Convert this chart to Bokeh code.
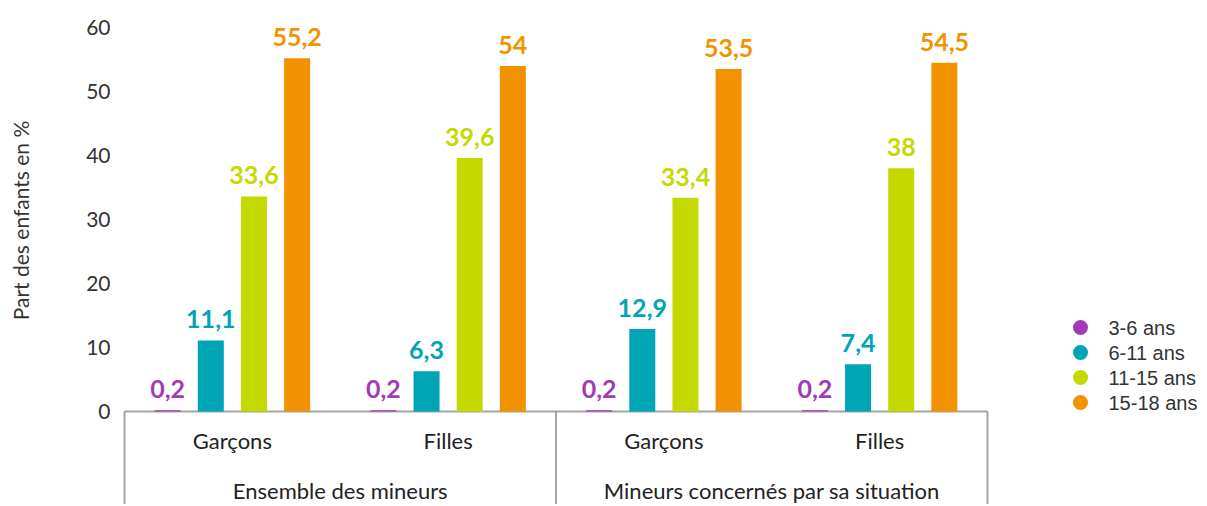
import math
from bokeh.plotting import figure
from bokeh.models import Range1d, ColumnDataSource
from bokeh.core.properties import value
from bokeh.embed import file_html
from bokeh.resources import INLINE

# ---- data ----
groups = ["Ensemble des mineurs", "Mineurs concernés par sa situation"]
subgroups = ["Garçons", "Filles"]
ages = ["3-6 ans", "6-11 ans", "11-15 ans", "15-18 ans"]
colors = ["#A13AB6", "#00A5B5", "#C4D900", "#F39200"]
v_3_6 = [0.2, 0.2, 0.2, 0.2]
v_6_11 = [11.1, 6.3, 12.9, 7.4]
v_11_15 = [33.6, 39.6, 33.4, 38]
v_15_18 = [55.2, 54, 53.5, 54.5]
series = [v_3_6, v_6_11, v_11_15, v_15_18]
y_ticks = [0, 10, 20, 30, 40, 50, 60]
y_title = "Part des enfants en %"

# ---- layout constants (pixels) ----
W, H = 1205, 504
X0_PX = 124      # canvas x of category-axis start
ZERO_PX = 411    # canvas y of value 0
PX_X = 215.75    # px per subgroup
PX_Y = 6.4       # px per percent


def dx(px):
    return px / PX_X


def dy(px):
    return px / PX_Y


n_sub = len(groups) * len(subgroups)
p = figure(width=W, height=H,
           x_range=Range1d(-dx(X0_PX), dx(W - X0_PX)),
           y_range=Range1d(-dy(H - ZERO_PX), dy(ZERO_PX)),
           x_axis_type=None, y_axis_type=None,
           output_backend="svg", toolbar_location=None,
           min_border_left=0, min_border_right=0, min_border_top=0, min_border_bottom=0)
p.outline_line_color = None
p.background_fill_color = "white"
p.border_fill_color = "white"

FONT = value("Lato")

# y tick labels and title
p.text(x=[-dx(14)] * len(y_ticks), y=y_ticks, text=[str(t) for t in y_ticks],
       text_align="right", text_baseline="middle", text_font=FONT,
       text_font_size="21px", text_color="#333333")
p.text(x=[-dx(X0_PX - 20)], y=[dy(ZERO_PX - 220)], text=[y_title], angle=math.pi / 2,
       text_align="center", text_baseline="middle", text_font=FONT,
       text_font_size="21px", text_color="#333333")

# frame lines of the category axis
frame_color = "#A3A3A3"
ybot = p.y_range.start
p.segment(x0=[0], y0=[0], x1=[n_sub], y1=[0], line_color=frame_color, line_width=2)
sep_x = [i * len(subgroups) for i in range(len(groups) + 1)]
p.segment(x0=sep_x, y0=[0] * len(sep_x), x1=sep_x, y1=[ybot] * len(sep_x),
          line_color=frame_color, line_width=2)

# bars + value labels
offsets = [-0.3, -0.1, 0.1, 0.3]
centers = [i + 0.5 for i in range(n_sub)]
for vals, col, off in zip(series, colors, offsets):
    xs = [c + off for c in centers]
    labels = [f"{v:g}".replace(".", ",") for v in vals]
    ly = [v + dy(21) for v in vals]
    src = ColumnDataSource(dict(x=xs, top=vals, ly=ly, lab=labels))
    p.vbar(x="x", top="top", bottom=0, width=dx(26), source=src, fill_color=col, line_color=None)
    p.text(x="x", y="ly", text="lab", source=src, text_align="center", text_baseline="alphabetic",
           text_font=FONT, text_font_style="bold", text_font_size="25px", text_color=col)

# category labels
sub_labels = subgroups * len(groups)
p.text(x=centers, y=[-dy(440 - ZERO_PX)] * n_sub, text=sub_labels, text_align="center",
       text_baseline="middle", text_font=FONT, text_font_size="22px", text_color="#222222")
g_centers = [i * len(subgroups) + len(subgroups) / 2 for i in range(len(groups))]
p.text(x=g_centers, y=[-dy(490 - ZERO_PX)] * len(groups), text=groups, text_align="center",
       text_baseline="middle", text_font=FONT, text_font_size="22px", text_color="#222222")

# legend (circles + labels)
leg_rows = [327 + 25 * i for i in range(len(ages))]
leg_y = [dy(ZERO_PX - r) for r in leg_rows]
p.scatter(x=[dx(1080 - X0_PX)] * len(ages), y=leg_y, marker="circle", size=15,
          fill_color=colors, line_color=None)
p.text(x=[dx(1108 - X0_PX)] * len(ages), y=leg_y, text=ages, text_align="left",
       text_baseline="middle", text_font=value("Liberation Sans"), text_font_size="20px",
       text_color="#333333")

open("out.html", "w").write(file_html(p, INLINE))
